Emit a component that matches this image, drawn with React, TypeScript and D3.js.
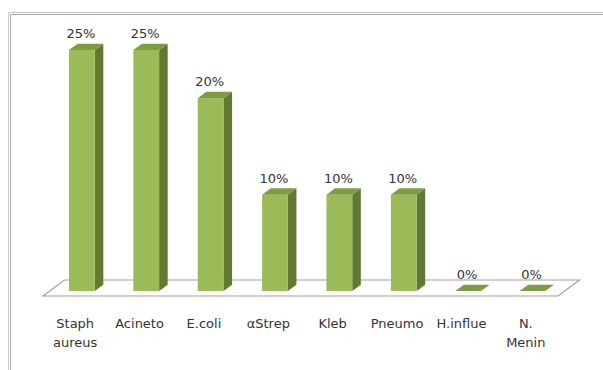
import React from "react";
import * as d3 from "d3";

// Organism categories (two-line labels split on "\n")
const categories: string[] = [
  "Staph\naureus",
  "Acineto",
  "E.coli",
  "αStrep",
  "Kleb",
  "Pneumo",
  "H.influe",
  "N.\nMenin",
];

// Share of isolates, in percent
const values: number[] = [25, 25, 20, 10, 10, 10, 0, 0];

const W = 603;
const H = 370;

// Floor (front edge) extent and oblique depth projection
const floorLeft = 43;
const floorRight = 558;
const floorFrontY = 296;
const depthDX = 21.5;
const depthDY = -16;
const barFront = 0.31; // bar front plane, as a fraction of floor depth
const barBack = 0.71; // bar back plane

const FRONT = "#9bbb59";
const TOP = "#7e9c44";
const SIDE = "#617a32";
const TEXT = "#333333";
const FONT = "'DejaVu Sans', sans-serif";

export default function App() {
  const x = d3
    .scaleBand<string>()
    .domain(categories)
    .range([floorLeft, floorRight])
    .paddingInner(0.6)
    .paddingOuter(0.3);

  const y = d3.scaleLinear().domain([0, 25]).range([floorFrontY, 55]);

  const proj = (px: number, py: number, d: number): [number, number] => [
    px + depthDX * d,
    py + depthDY * d,
  ];
  const pts = (arr: [number, number][]) =>
    arr.map((p) => `${p[0].toFixed(2)},${p[1].toFixed(2)}`).join(" ");

  const floor = pts([
    proj(floorLeft, floorFrontY, 0),
    proj(floorRight, floorFrontY, 0),
    proj(floorRight, floorFrontY, 1),
    proj(floorLeft, floorFrontY, 1),
  ]);

  return (
    <svg
      width={W}
      height={H}
      style={{ position: "absolute", left: 0, top: 0, background: "#fff" }}
    >
      {/* chart frame */}
      <path d={`M8.5,${H} V12.5 H${W}`} fill="none" stroke="#c8c8c8" strokeWidth={1} />
      <path d={`M10.5,${H} V14.5 H${W}`} fill="none" stroke="#aaaaaa" strokeWidth={1} />

      {/* floor */}
      <polygon points={floor} fill="#fff" stroke="#a0a0a0" strokeWidth={1.2} />

      {categories.map((c, i) => {
        const v = values[i];
        const x0 = x(c)!;
        const x1 = x0 + x.bandwidth();
        const yb = y(0);
        const yt = y(v);
        const fl = proj(x0, yb, barFront);
        const fr = proj(x1, yb, barFront);
        const tl = proj(x0, yt, barFront);
        const tr = proj(x1, yt, barFront);
        const btl = proj(x0, yt, barBack);
        const btr = proj(x1, yt, barBack);
        const bbr = proj(x1, yb, barBack);
        const cx = (tl[0] + tr[0]) / 2;
        const lines = c.split("\n");
        const labelX = x0 + x.bandwidth() / 2;
        return (
          <g key={c}>
            {v > 0 ? (
              <>
                <polygon points={pts([fr, tr, btr, bbr])} fill={SIDE} />
                <polygon points={pts([fl, fr, tr, tl])} fill={FRONT} />
                <polygon points={pts([tl, tr, btr, btl])} fill={TOP} />
              </>
            ) : (
              <polygon points={pts([tl, tr, btr, btl])} fill={TOP} />
            )}
            <text
              x={cx - 1}
              y={tl[1] - 12}
              textAnchor="middle"
              fontFamily={FONT}
              fontSize={13}
              fill={TEXT}
            >
              {`${v}%`}
            </text>
            {lines.map((t, k) => (
              <text
                key={k}
                x={labelX}
                y={328 + k * 19}
                textAnchor="middle"
                fontFamily={FONT}
                fontSize={13}
                fill={TEXT}
              >
                {t}
              </text>
            ))}
          </g>
        );
      })}
    </svg>
  );
}
